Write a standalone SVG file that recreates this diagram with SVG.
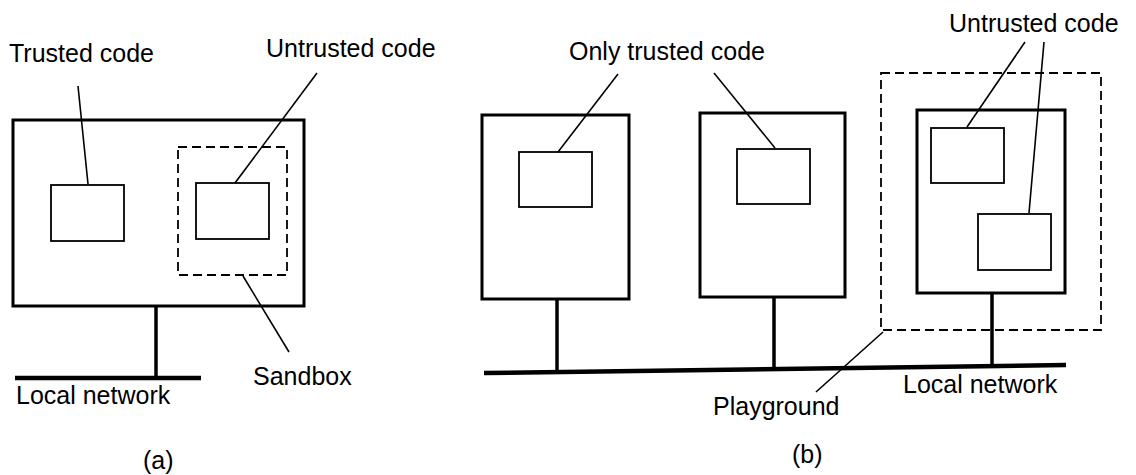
<svg xmlns="http://www.w3.org/2000/svg" width="1136" height="475" viewBox="0 0 1136 475">
<style>
.host{fill:none;stroke:#000;stroke-width:3}
.code{fill:none;stroke:#000;stroke-width:1.8}
.dash{fill:none;stroke:#000;stroke-width:1.8;stroke-dasharray:9 5}
.lead{fill:none;stroke:#000;stroke-width:1.6}
.stem{fill:none;stroke:#000;stroke-width:3.5}
.net{fill:none;stroke:#000;stroke-width:4.5}
text{font-family:"Liberation Sans",Arial,sans-serif;font-size:25px;fill:#000}
</style>
<rect width="1136" height="475" fill="#fff"/>
<g id="host-a">
<rect class="host" x="13" y="120" width="291" height="186"/>
</g>
<g id="trusted-a">
<rect class="code" x="51" y="185" width="73" height="56"/>
</g>
<g id="sandbox">
<rect class="dash" x="178" y="147" width="109" height="128"/>
</g>
<g id="untrusted-a">
<rect class="code" x="196" y="183" width="73" height="56"/>
</g>
<g id="network-a">
<line class="net" x1="15" y1="378" x2="201" y2="378"/>
</g>
<g id="host-b1">
<rect class="host" x="482" y="115" width="147" height="184"/>
<rect class="code" x="519" y="152" width="73" height="55"/>
</g>
<g id="host-b2">
<rect class="host" x="700" y="113" width="145" height="184"/>
<rect class="code" x="737" y="149" width="73" height="55"/>
</g>
<g id="playground">
<rect class="dash" x="881" y="73" width="220" height="257"/>
</g>
<g id="host-b3">
<rect class="host" x="917" y="110" width="148" height="183"/>
<rect class="code" x="931" y="128" width="73" height="55"/>
<rect class="code" x="978" y="214" width="73" height="56"/>
</g>
<g id="network-b">
<line class="net" x1="484" y1="373" x2="1066" y2="365"/>
</g>
<g id="connectors">
<line class="stem" x1="156" y1="306" x2="156" y2="377"/>
<line class="stem" x1="557" y1="299" x2="557" y2="372"/>
<line class="stem" x1="774" y1="297" x2="774" y2="369"/>
<line class="stem" x1="992" y1="293" x2="992" y2="366"/>
<line class="lead" x1="78" y1="86" x2="88" y2="184"/>
<line class="lead" x1="317" y1="73" x2="235" y2="183"/>
<line class="lead" x1="243" y1="276" x2="289" y2="352"/>
<line class="lead" x1="618" y1="74" x2="558" y2="152"/>
<line class="lead" x1="714" y1="73" x2="775" y2="148"/>
<line class="lead" x1="1025" y1="42" x2="967" y2="127"/>
<line class="lead" x1="1044" y1="42" x2="1029" y2="213"/>
<line class="lead" x1="883" y1="332" x2="816" y2="392"/>
</g>
<g id="labels">
<text x="9" y="62">Trusted code</text>
<text x="266" y="57">Untrusted code</text>
<text x="253" y="385">Sandbox</text>
<text x="16" y="404">Local network</text>
<text x="143" y="469">(a)</text>
<text x="569" y="60">Only trusted code</text>
<text x="949" y="32">Untrusted code</text>
<text x="713" y="415">Playground</text>
<text x="903" y="393">Local network</text>
<text x="792" y="463">(b)</text>
</g>
</svg>
